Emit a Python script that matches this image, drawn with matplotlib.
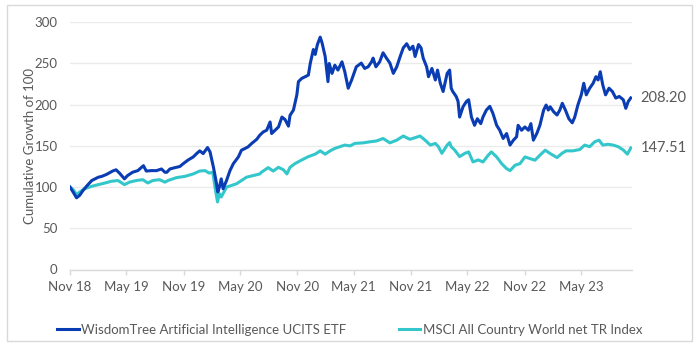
import matplotlib
matplotlib.use("Agg")
import matplotlib.pyplot as plt
import pandas as pd
from matplotlib.patches import Rectangle

# ---------------- data ----------------
etf_dates = [
    "2018-11-01", "2018-11-11", "2018-11-22", "2018-12-02", "2018-12-13", "2018-12-24",
    "2019-01-10", "2019-01-31", "2019-02-11", "2019-02-27", "2019-03-18", "2019-03-29",
    "2019-04-09", "2019-04-25", "2019-05-05", "2019-05-21", "2019-06-07", "2019-06-25",
    "2019-07-04", "2019-07-20", "2019-08-06", "2019-08-22", "2019-09-02", "2019-09-08",
    "2019-09-18", "2019-10-04", "2019-10-20", "2019-10-31", "2019-11-16", "2019-12-02",
    "2019-12-13", "2019-12-23", "2020-01-03", "2020-01-17", "2020-01-25", "2020-02-05",
    "2020-02-13", "2020-02-19", "2020-02-24", "2020-03-01", "2020-03-07", "2020-03-18",
    "2020-03-29", "2020-04-09", "2020-04-25", "2020-05-05", "2020-05-16", "2020-05-26",
    "2020-06-07", "2020-06-23", "2020-07-03", "2020-07-14", "2020-07-25", "2020-08-05",
    "2020-08-10", "2020-08-21", "2020-09-01", "2020-09-12", "2020-09-22", "2020-10-03",
    "2020-10-08", "2020-10-19", "2020-10-30", "2020-11-04", "2020-11-15", "2020-11-26",
    "2020-12-06", "2020-12-12", "2020-12-22", "2020-12-28", "2021-01-04", "2021-01-13",
    "2021-01-19", "2021-01-29", "2021-02-07", "2021-02-11", "2021-02-20", "2021-03-01",
    "2021-03-11", "2021-03-24", "2021-04-02", "2021-04-13", "2021-04-24", "2021-05-09",
    "2021-05-25", "2021-06-05", "2021-06-16", "2021-06-27", "2021-07-02", "2021-07-11",
    "2021-07-23", "2021-08-03", "2021-08-14", "2021-08-25", "2021-09-05", "2021-09-16",
    "2021-09-27", "2021-10-07", "2021-10-18", "2021-10-28", "2021-11-07", "2021-11-14",
    "2021-11-25", "2021-12-03", "2021-12-10", "2021-12-21", "2021-12-27", "2022-01-07",
    "2022-01-18", "2022-01-25", "2022-02-03", "2022-02-12", "2022-02-25", "2022-03-05",
    "2022-03-10", "2022-03-15", "2022-03-26", "2022-04-01", "2022-04-06", "2022-04-17",
    "2022-04-28", "2022-05-05", "2022-05-14", "2022-05-24", "2022-06-02", "2022-06-13",
    "2022-06-20", "2022-07-01", "2022-07-12", "2022-07-22", "2022-08-03", "2022-08-13",
    "2022-08-24", "2022-09-04", "2022-09-15", "2022-09-26", "2022-10-06", "2022-10-11",
    "2022-10-22", "2022-11-02", "2022-11-13", "2022-11-21", "2022-11-29", "2022-12-10",
    "2022-12-20", "2023-01-01", "2023-01-09", "2023-01-16", "2023-01-22", "2023-02-02",
    "2023-02-13", "2023-02-22", "2023-03-02", "2023-03-12", "2023-03-23", "2023-04-03",
    "2023-04-11", "2023-04-21", "2023-05-02", "2023-05-10", "2023-05-18", "2023-05-29",
    "2023-06-09", "2023-06-18", "2023-06-25", "2023-07-02", "2023-07-10", "2023-07-19",
    "2023-07-30", "2023-08-10", "2023-08-21", "2023-09-01", "2023-09-14", "2023-09-22",
    "2023-09-30", "2023-10-08",
]
etf_values = [
    100, 94, 87, 90, 96, 101,
    108, 112, 113, 115.5, 119.5, 121,
    117, 110, 114, 118, 120, 126,
    119.5, 120, 120, 122, 118, 118,
    122, 123.6, 125, 128.5, 133, 136.6,
    140.7, 144, 140.7, 148, 142.7, 124,
    108, 94, 100, 110, 98, 108,
    120, 128.5, 136.6, 144.8, 146.8, 148.8,
    153, 158, 163, 167, 169, 179,
    165, 169, 173, 185, 182, 174,
    187, 193.5, 212, 228, 232, 234,
    236, 250, 267, 261, 273, 282,
    275, 258.5, 228, 250, 238, 248,
    242, 252, 240, 220, 230, 246,
    250.5, 244, 246, 252, 256.5, 246,
    252, 263, 256.5, 250.5, 238, 246,
    258.5, 269, 274, 267, 271, 258.5,
    273, 269, 256.5, 246, 234, 244,
    230, 242, 226, 216, 238, 242,
    220, 216, 210, 204, 185, 197.5,
    204, 206, 185, 175, 183, 177,
    185, 193.5, 198, 189.5, 175, 169,
    159, 165, 151, 157, 161, 175,
    169, 173, 169, 177, 157, 165,
    175, 193.5, 199.6, 193.5, 197.5, 191.5,
    187.5, 193.5, 201.7, 193.5, 183, 178,
    185, 199.6, 212, 226, 212, 220,
    226, 234, 230, 240, 224, 212,
    220, 216, 208, 210, 206, 195.6,
    204, 208.20,
]

msci_dates = [
    "2018-11-01", "2018-11-11", "2018-11-22", "2018-12-02", "2018-12-18", "2019-01-10",
    "2019-01-31", "2019-02-22", "2019-03-13", "2019-04-04", "2019-04-25", "2019-05-11",
    "2019-06-02", "2019-06-23", "2019-07-09", "2019-07-25", "2019-08-16", "2019-09-02",
    "2019-09-12", "2019-10-09", "2019-11-05", "2019-12-02", "2019-12-23", "2020-01-09",
    "2020-01-22", "2020-02-03", "2020-02-10", "2020-02-18", "2020-02-24", "2020-03-01",
    "2020-03-18", "2020-04-03", "2020-04-19", "2020-05-05", "2020-05-21", "2020-06-12",
    "2020-07-03", "2020-07-08", "2020-07-30", "2020-08-15", "2020-09-01", "2020-09-17",
    "2020-09-28", "2020-10-08", "2020-10-24", "2020-11-15", "2020-12-06", "2020-12-28",
    "2021-01-13", "2021-01-29", "2021-02-14", "2021-03-01", "2021-03-17", "2021-04-02",
    "2021-04-19", "2021-05-04", "2021-05-31", "2021-06-22", "2021-07-13", "2021-08-03",
    "2021-08-25", "2021-09-16", "2021-10-07", "2021-10-28", "2021-11-14", "2021-11-30",
    "2021-12-16", "2022-01-02", "2022-01-18", "2022-01-28", "2022-02-08", "2022-02-25",
    "2022-03-05", "2022-03-10", "2022-03-21", "2022-04-06", "2022-04-23", "2022-05-05",
    "2022-05-19", "2022-06-05", "2022-06-20", "2022-07-07", "2022-07-17", "2022-08-03",
    "2022-08-19", "2022-09-04", "2022-09-15", "2022-10-01", "2022-10-17", "2022-11-02",
    "2022-11-18", "2022-12-04", "2022-12-20", "2023-01-06", "2023-01-22", "2023-02-13",
    "2023-02-28", "2023-03-14", "2023-04-05", "2023-04-27", "2023-05-13", "2023-05-29",
    "2023-06-14", "2023-06-28", "2023-07-10", "2023-07-27", "2023-08-12", "2023-08-29",
    "2023-09-14", "2023-09-27", "2023-10-08",
]
msci_values = [
    100, 97, 91, 94, 98, 101,
    103, 105, 107, 108, 103, 106,
    108, 109, 105, 108, 109, 106,
    108, 111.5, 113, 116, 119.5, 120,
    117, 118, 100, 82, 92, 88,
    100, 102, 104, 108, 112, 114,
    116, 118, 123.6, 119.5, 124, 121,
    116, 124, 128.5, 133, 137, 140,
    144, 140, 144, 147, 149, 151,
    150, 153, 153.7, 155, 156, 159,
    153.7, 157, 162, 158, 160, 162,
    157, 151, 153, 149, 141, 151,
    154, 149, 145, 137, 141, 142.7,
    130.5, 133, 130.5, 138.7, 142.7, 136.6,
    128.5, 122.4, 120, 126.5, 128.5, 136.6,
    134.6, 132.6, 138.7, 144.8, 140.7, 135.8,
    140.7, 144, 144, 145.6, 151, 149,
    155, 157, 151, 152, 151, 149,
    145, 140, 147.51,
]

series_names = ["WisdomTree Artificial Intelligence UCITS ETF",
                "MSCI All Country World net TR Index"]
tick_labels = ["Nov 18", "May 19", "Nov 19", "May 20", "Nov 20", "May 21",
               "Nov 21", "May 22", "Nov 22", "May 23"]
tick_dates = ["2018-11-01", "2019-05-01", "2019-11-01", "2020-05-01", "2020-11-01",
              "2021-05-01", "2021-11-01", "2022-05-01", "2022-11-01", "2023-05-01"]
y_ticks = [0, 50, 100, 150, 200, 250, 300]

# ---------------- style ----------------
plt.rcParams['font.family'] = ['Lato', 'DejaVu Sans']
TXT = "#595959"
C_ETF = "#0A3CB4"
C_MSCI = "#33C7CB"

fig = plt.figure(figsize=(7.0, 3.48), dpi=100)
ax = fig.add_axes([70 / 700, 1 - 269.5 / 348, (631.7 - 70) / 700, (269.5 - 22.3) / 348])

d_etf = pd.to_datetime(etf_dates)
d_msci = pd.to_datetime(msci_dates)

ax.plot(d_msci, msci_values, color=C_MSCI, lw=2.2, solid_joinstyle="round", label=series_names[1], zorder=3)
ax.plot(d_etf, etf_values, color=C_ETF, lw=2.2, solid_joinstyle="round", label=series_names[0], zorder=4)

ax.set_ylim(0, 300)
ax.set_yticks(y_ticks)
ax.set_xlim(pd.Timestamp("2018-11-01"), pd.Timestamp("2023-10-11"))
ax.set_xticks(pd.to_datetime(tick_dates))
ax.set_xticklabels(tick_labels)

ax.grid(axis="y", color="#EBEBEB", lw=1.0)
ax.set_axisbelow(True)
for s in ["top", "right", "left"]:
    ax.spines[s].set_visible(False)
ax.spines["bottom"].set_color("#D9D9D9")
ax.spines["bottom"].set_linewidth(1.0)

ax.tick_params(axis="y", length=0, pad=9, labelsize=9.5, labelcolor=TXT)
ax.tick_params(axis="x", length=3.5, width=1, color="#D9D9D9", pad=5,
               labelsize=9.5, labelcolor=TXT)

ax.set_ylabel("Cumulative Growth of 100", fontsize=9.5, color=TXT, labelpad=-1)

# end labels
ax.annotate(f"{etf_values[-1]:.2f}", xy=(d_etf[-1], etf_values[-1]), xytext=(7, 0),
            textcoords="offset points", va="center", ha="left", fontsize=10.5,
            color=TXT)
ax.annotate(f"{msci_values[-1]:.2f}", xy=(d_msci[-1], msci_values[-1]), xytext=(7, 0),
            textcoords="offset points", va="center", ha="left", fontsize=10.5,
            color=TXT)

handles, labels = ax.get_legend_handles_labels()
order = [1, 0]
leg = fig.legend([handles[i] for i in order], [labels[i] for i in order],
                 loc="center", bbox_to_anchor=(0.5, 1 - 330 / 348), ncol=2,
                 frameon=False, fontsize=9.5, handlelength=1.6, handletextpad=0.2,
                 columnspacing=4.0)
for t in leg.get_texts():
    t.set_color(TXT)

# outer border
fig.patches.append(Rectangle((6.7 / 700, 1 - 340.7 / 348), (691.7 - 6.7) / 700,
                             (340.7 - 4.7) / 348, transform=fig.transFigure,
                             fill=False, edgecolor="#D9D9D9", lw=1.0))

fig.savefig("out.png", dpi=100)
